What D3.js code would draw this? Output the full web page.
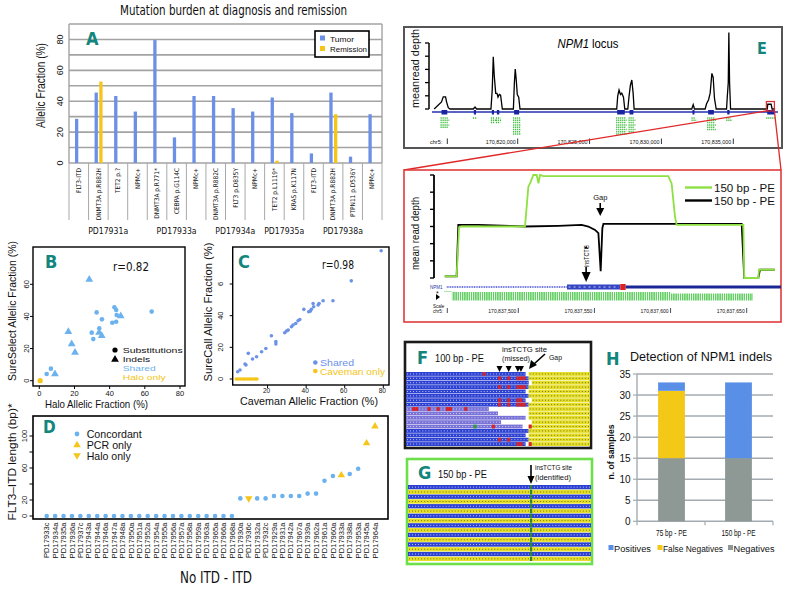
<!DOCTYPE html>
<html>
<head>
<meta charset="utf-8">
<script src="https://cdn.jsdelivr.net/npm/d3@7/dist/d3.min.js"></script>
<style>
  body { margin: 0; background: #fff; }
  svg { display: block; }
</style>
</head>
<body>
<div id="figure"></div>
<script>
// ---------- Panel A: mutation burden ----------
const mutGenes = ["FLT3-ITD", "DNMT3A p.R882H", "TET2 p.?", "NPMc+", "DNMT3A p.R771*", "CEBPA p.G114C", "NPMc+",
  "DNMT3A p.R882C", "FLT3 p.D835Y", "NPMc+", "TET2 p.L1119*", "KRAS p.K117N", "FLT3-ITD", "DNMT3A p.R882H",
  "PTPN11 p.D536Y", "NPMc+"];
const mutSamples = ["PD17931a", "PD17933a", "PD17934a", "PD17935a", "PD17938a"];
const mutPerSample = [4, 3, 3, 2, 4];
const tumorAF = [28.6, 45.6, 43.4, 33.3, 79.6, 16.6, 43.4, 43.4, 35.5, 33.3, 42.4, 32.3, 6.2, 45.6, 4.1, 31.6];
const remissionAF = [null, 52.7, null, null, null, null, null, null, null, null, 1.5, null, null, 31.6, null, null];
const afTicks = [0, 20, 40, 60, 80];

// ---------- Panel B: Halo vs SureSelect ----------
const subsHalo = [32.6, 35.6, 34.1, 30.7, 42.7, 43.7, 44.0, 41.5, 43.7, 63.9, 6.6, 4.2, 29.8];
const subsSure = [42.5, 38.2, 32.6, 25.9, 45.7, 44.0, 40.9, 36.1, 36.7, 43.0, 7.5, 4.2, 29.9];
const indelHalo = [28.4, 16.5, 18.4, 20.3, 8.9, 34.0, 35.5, 46.3];
const indelSure = [63.0, 30.5, 22.8, 17.6, 4.2, 30.0, 28.0, 40.3];
const haloOnlyHalo = [0.5];
const haloOnlySure = [0];
const bXTicks = [0, 20, 40, 60, 80];
const bYTicks = [0, 20, 40, 60];

// ---------- Panel C: Caveman vs SureCall ----------
const sharedCaveman = [63.4, 53.9, 48.8, 46.7, 46.2, 43.9, 43.6, 42.7, 42.2, 41.3, 38.8, 36.7, 35.8, 34.6, 33.2, 32.4,
  30.7, 29.8, 28.9, 22.0, 24.3, 24.3, 19.1, 16.9, 14.3, 12.2, 10.0, 8.8, 8.3, 5.7, 4.5, 78.9];
const sharedSureCall = [62.0, 49.4, 49.4, 47.7, 46.7, 45.6, 47.7, 44.0, 42.9, 42.5, 44.0, 37.6, 36.8, 35.1, 34.1, 33.0,
  30.9, 30.3, 29.2, 27.3, 23.6, 22.1, 19.3, 17.2, 14.1, 12.6, 16.2, 8.8, 9.5, 5.7, 4.6, 81.0];
const cavemanOnly = [3.8, 4.9, 6.0, 7.2, 8.1, 9.3, 10.4, 11.5, 12.6, 13.7, 14.5];
const cXTicks = [20, 40, 60, 80];
const cYTicks = [0, 20, 40, 60];
const cYTickText = ["0", "20", "40", "6"];

// ---------- Panel D: FLT3-ITD length ----------
const itdSamples = ["PD17933c", "PD17934a", "PD17935a", "PD17936a", "PD17937c", "PD17943a", "PD17944a", "PD17946a",
  "PD17947a", "PD17948a", "PD17950a", "PD17951a", "PD17952a", "PD17954a", "PD17955a", "PD17956a", "PD17957a",
  "PD17958a", "PD17959a", "PD17963a", "PD17965a", "PD17966a", "PD17968a", "PD17930a", "PD17936c", "PD17932a",
  "PD17932c", "PD17929a", "PD17931a", "PD17942a", "PD17967a", "PD17939a", "PD17962a", "PD17961a", "PD17960a",
  "PD17933a", "PD17938a", "PD17953a", "PD17945a", "PD17964a"];
const itdLength = [0, 0, 0, 0, 0, 0, 0, 0, 0, 0, 0, 0, 0, 0, 0, 0, 0, 0, 0, 0, 0, 0, 0,
  22, 22, 22, 22, 25, 25, 25, 25, 28, 28, 44, 50, 51, 52.5, 59, 91, 112];
const itdCall = ["C", "C", "C", "C", "C", "C", "C", "C", "C", "C", "C", "C", "C", "C", "C", "C", "C", "C", "C", "C",
  "C", "C", "C", "C", "H", "C", "C", "C", "C", "C", "C", "C", "C", "C", "C", "P", "C", "C", "P", "P"];
const dYTicks = [0, 20, 40, 60, 80, 100];
const dYLabels = [0, 20, 60, 100];

// ---------- Panel E: NPM1 coverage ----------
// positions in kb past chr5:170,800,000
const locusKb = [14.19, 14.70, 14.82, 14.98, 15.05, 15.17, 15.29, 16.91, 17.03, 17.14, 18.14, 18.23, 18.30, 18.37,
  18.47, 18.56, 18.63, 18.72, 18.81, 18.93, 19.70, 19.77, 19.83, 19.90, 19.97, 20.07, 20.16, 26.89, 26.96, 27.05,
  27.15, 27.24, 27.36, 27.45, 27.66, 27.75, 27.84, 27.94, 28.03, 28.10, 32.11, 32.21, 32.30, 33.04, 33.14, 33.28,
  33.39, 33.51, 33.60, 33.69, 33.81, 34.53, 34.58, 34.65, 34.69, 34.74, 34.81, 37.36, 37.40, 37.63, 37.70, 37.91];
const locusDepth = [0, 0.54, 0.92, 0.92, 0.54, 0.1, 0, 0, 0.15, 0, 0, 1.5, 3.95, 2.5, 1.18, 1.18, 0.9, 1.1, 1.05, 0,
  0, 2.0, 3.03, 2.2, 1.1, 0.9, 0, 0, 1.0, 1.44, 1.1, 1.2, 0.9, 0, 0, 1.0, 1.8, 2.2, 1.2, 0, 0, 0.33, 0, 0, 0.4,
  0.7, 1.2, 2.7, 2.4, 0.8, 0, 0, 0.9, 2.0, 5.8, 2.0, 0, 0, 0.36, 0.36, 0, 0];
const exonStartKb = [14.70, 16.95, 18.20, 18.55, 19.75, 26.92, 27.78, 32.16, 33.25, 34.58, 37.36];
const exonEndKb = [15.10, 17.10, 18.35, 18.72, 20.10, 27.45, 28.05, 32.28, 33.65, 34.74, 37.90];
const exonReads = [5, 1, 3, 3, 8, 8, 7, 2, 6, 2, 1];
const locusTicks = [20, 25, 30, 35];
const locusTickText = ["170,820,000", "170,825,000", "170,830,000", "170,835,000"];
const zoomBoxKb = [37.30, 37.86];

// zoomed view: bp past chr5:170,837,500
const greenBp = [-48.6, -40.5, -38.9, -37.2, 4.4, 6.6, 7.7, 9.9, 12.1, 13.2, 14.3, 16.4, 98.5, 100.7, 102.9, 104.0,
  118.2, 147.8, 148.4, 157.6, 158.1, 168.6];
const greenDepth = [0.1, 0.1, 2.96, 3.0, 3.0, 5.32, 5.51, 6.0, 6.0, 5.51, 6.0, 5.94, 5.94, 5.51, 3.58, 3.09, 3.09,
  3.09, 0, 0, 0.48, 0.48];
const blackBp = [-48.2, -40.5, -39.4, -26.2, 4.4, 26.3, 41.6, 46.0, 50.4, 52.6, 54.1, 55.2, 55.9, 100.7, 118.2,
  146.7, 148.4, 157.6, 158.7, 168.6];
const blackDepth = [0.1, 0.1, 3.09, 3.09, 3.0, 3.04, 3.09, 3.0, 2.8, 2.61, 0.39, 2.9, 3.15, 3.15, 3.15, 3.15, 0, 0,
  0.48, 0.48];
const zoomTicks = [0, 50, 100, 150];
const zoomTickText = ["170,837,500", "170,837,550", "170,837,600", "170,837,650"];
const gapBp = 53.8;
const insBp = 47.5;

// ---------- Panel F: 100 bp reads ----------
const fReadEnd = [38, 39, 39, 39, 38, 39, 38, 39, 26, 29, 38, 30, 37, 39, 38, 39, 38];
const fPurple = [0, 0, 0, 0, 0, 0, 0, 0, 1, 1, 1, 1, 1, 0, 0, 0, 0];
const fMateStart = [40, 40, 41, 40, 40, 40, 41, 40, 40, 40, 40, 41, 40, 40, 40, 40, 40];
const fMisRow = [0, 1, 1, 1, 1, 1, 3, 3, 3, 3, 3, 6, 6, 6, 6, 7, 7, 7, 7, 7, 8, 8, 8, 8, 8, 8, 8, 12, 12, 15, 15, 16, 16, 16];
const fMisCol = [25, 30, 33, 36, 37, 38, 30, 33, 36, 37, 38, 30, 33, 36, 37, 30, 33, 36, 37, 38, 2, 3, 7, 10, 13, 14, 19, 28, 40, 30, 33, 36, 37, 40];
const fInsCols = [30, 33, 36, 37];

// ---------- Panel G: 150 bp reads ----------
const gStrand = [0, 1, 0, 1, 0, 1, 0, 1, 0, 1, 0, 1, 0, 1, 0, 1];
const gInsCol = 40;

// ---------- Panel H: detection ----------
const hCats = ["75 bp - PE", "150 bp - PE"];
const hNegatives = [15, 15];
const hFalseNeg = [16, 0];
const hPositives = [2, 18];
const hTicks = [0, 5, 10, 15, 20, 25, 30, 35];

// ================= drawing =================
const TEAL = "#12857c";
const BLUE_A = "#6b90e6";
const YEL = "#f5c518";
const PT_B = "#6cb2ee";
const PT_C = "#6c92e8";
const SANS = "'Liberation Sans', Arial, sans-serif";
const NARROW = "'Liberation Sans Narrow', 'DejaVu Sans Condensed', 'Arial Narrow', sans-serif";

const svg = d3.select("#figure").append("svg")
  .attr("width", 786)
  .attr("height", 591);
svg.append("rect").attr("width", 786).attr("height", 591).attr("fill", "#fff");

function label(g, s, x, y, o = {}) {
  const t = g.append("text")
    .attr("x", x).attr("y", y)
    .attr("text-anchor", o.anchor || "start")
    .attr("fill", o.fill || "#111")
    .style("font-family", o.font || SANS)
    .style("font-size", (o.size || 10) + "px")
    .text(s);
  if (o.bold) t.style("font-weight", "bold");
  if (o.italic) t.style("font-style", "italic");
  if (o.len) t.attr("textLength", o.len).attr("lengthAdjust", "spacingAndGlyphs");
  if (o.rot) t.attr("transform", `rotate(${o.rot},${x},${y})`);
  if (o.dy) t.attr("dy", o.dy);
  return t;
}
function letter(s, x, y, size) {
  label(svg, s, x, y, { font: NARROW, size: size || 18, bold: true, fill: TEAL });
}
function arrowDown(g, x, y1, y2, hw, hh, color) {
  g.append("line").attr("x1", x).attr("x2", x).attr("y1", y1).attr("y2", y2 - hh + 1)
    .attr("stroke", color || "#000").attr("stroke-width", 1.6);
  g.append("path").attr("d", `M${x - hw},${y2 - hh}L${x + hw},${y2 - hh}L${x},${y2}Z`).attr("fill", color || "#000");
}
const tri = d3.symbol().type(d3.symbolTriangle);

// ---------------- Panel A ----------------
const gA = svg.append("g");
const xA = d3.scaleBand().domain(d3.range(mutGenes.length)).range([69, 382]);
const xA2 = d3.scaleBand().domain(["Tumor", "Remission"]).range([6, 14]).paddingInner(0.3);
const yA = d3.scaleLinear().domain([0, 90]).range([163, 24]);

label(gA, "Mutation burden at diagnosis and remission", 233.5, 15, { font: NARROW, size: 13.5, anchor: "middle", len: 227 });

// grid
gA.selectAll("line.grid").data(d3.range(0, 91, 10)).join("line")
  .attr("x1", 69).attr("x2", 382)
  .attr("y1", d => yA(d)).attr("y2", d => yA(d))
  .attr("stroke", "#a3a3a3").attr("stroke-width", 1.6);
[69, 382].forEach(x => gA.append("line").attr("x1", x).attr("x2", x).attr("y1", yA(90)).attr("y2", yA(0))
  .attr("stroke", "#a3a3a3").attr("stroke-width", 1.4));

// category separators below axis
const sepA = d3.range(mutGenes.length).map(i => xA(i)).concat([382]);
gA.selectAll("line.sep").data(sepA).join("line")
  .attr("x1", d => d).attr("x2", d => d).attr("y1", yA(0)).attr("y2", 220)
  .attr("stroke", "#a8a8a8").attr("stroke-width", 1);

// bars
const barsA = tumorAF.map((v, i) => ({ i, key: "Tumor", v }))
  .concat(remissionAF.map((v, i) => ({ i, key: "Remission", v })).filter(d => d.v !== null));
gA.selectAll("rect.bar").data(barsA).join("rect")
  .attr("x", d => xA(d.i) + xA2(d.key))
  .attr("width", xA2.bandwidth())
  .attr("y", d => yA(d.v))
  .attr("height", d => yA(0) - yA(d.v))
  .attr("fill", d => d.key === "Tumor" ? BLUE_A : YEL);

// y tick labels
afTicks.forEach(v => label(gA, v, 60, yA(v), { size: 9, anchor: "middle", rot: -90, dy: "0.35em" }));
label(gA, "Allelic Fraction (%)", 40, 85.5, { size: 13, anchor: "middle", rot: -90, len: 85, dy: "0.35em" });

// category labels
mutGenes.forEach((s, i) => label(gA, s, xA(i) + xA.bandwidth() / 2, 168,
  { font: NARROW, size: 6.5, anchor: "end", rot: -90, dy: "0.35em" }));

// sample labels
let acc = 0;
mutSamples.forEach((s, k) => {
  const c = (xA(acc) + (acc + mutPerSample[k] < mutGenes.length ? xA(acc + mutPerSample[k]) : 382)) / 2;
  label(gA, s, c, 234, { font: NARROW, size: 9.5, anchor: "middle", len: 40 });
  acc += mutPerSample[k];
});

// legend
const legA = gA.append("g");
legA.append("rect").attr("x", 315).attr("y", 31).attr("width", 54).attr("height", 26)
  .attr("fill", "#fff").attr("stroke", "#000").attr("stroke-width", 1.6);
["Tumor", "Remission"].forEach((k, i) => {
  legA.append("rect").attr("x", 320).attr("y", 35.5 + i * 10.5).attr("width", 5).attr("height", 5)
    .attr("fill", k === "Tumor" ? BLUE_A : YEL);
  label(legA, k, 330, 41.5 + i * 10.5, { size: 7.5, len: k === "Tumor" ? 24 : 37 });
});
letter("A", 86, 45, 18);

// ---------------- Panel B ----------------
const gB = svg.append("g");
const xB = d3.scaleLinear().domain([0, 80]).range([39.3, 180]);
const yB = d3.scaleLinear().domain([0, 60]).range([380.7, 284.3]);
gB.append("rect").attr("x", 33).attr("y", 247).attr("width", 152).attr("height", 139)
  .attr("fill", "none").attr("stroke", "#000").attr("stroke-width", 1.4);
bXTicks.forEach(v => {
  gB.append("line").attr("x1", xB(v)).attr("x2", xB(v)).attr("y1", 386).attr("y2", 389).attr("stroke", "#000");
  label(gB, v, xB(v), 396, { size: 7.5, anchor: "middle" });
});
bYTicks.forEach(v => {
  gB.append("line").attr("x1", 30).attr("x2", 33).attr("y1", yB(v)).attr("y2", yB(v)).attr("stroke", "#000");
  label(gB, v, 26, yB(v), { size: 7.5, anchor: "middle", rot: -90, dy: "0.35em" });
});
label(gB, "Halo Allelic Fraction (%)", 96.5, 408, { size: 11, anchor: "middle", len: 103 });
label(gB, "SureSelect Allelic Fraction  (%)", 12, 311, { size: 11, anchor: "middle", rot: -90, len: 140, dy: "0.35em" });
label(gB, "r=0.82", 131, 271, { font: NARROW, size: 13, anchor: "middle", len: 36 });

gB.selectAll("circle.sub").data(subsHalo).join("circle")
  .attr("cx", d => xB(d)).attr("cy", (d, i) => yB(subsSure[i])).attr("r", 2.3).attr("fill", PT_B);
gB.selectAll("path.indel").data(indelHalo).join("path")
  .attr("d", tri.size(26))
  .attr("transform", (d, i) => `translate(${xB(d)},${yB(indelSure[i])})`).attr("fill", PT_B);
gB.selectAll("circle.halo").data(haloOnlyHalo).join("circle")
  .attr("cx", d => xB(d)).attr("cy", (d, i) => yB(haloOnlySure[i])).attr("r", 2.6).attr("fill", YEL);

gB.append("circle").attr("cx", 115).attr("cy", 350).attr("r", 2.6).attr("fill", "#000");
label(gB, "Substitutions", 122.7, 353, { size: 8, len: 60 });
gB.append("path").attr("d", tri.size(26)).attr("transform", "translate(115,359.5)").attr("fill", "#000");
label(gB, "Indels", 122.7, 362.2, { size: 8, len: 27.5 });
label(gB, "Shared", 122.7, 371.3, { size: 8, len: 33, fill: PT_B });
label(gB, "Halo only", 122.7, 380.4, { size: 8, len: 43, fill: YEL });
letter("B", 45, 268, 18);

// ---------------- Panel C ----------------
const gC = svg.append("g");
const xC = d3.scaleLinear().domain([0, 80]).range([229, 383.3]);
const yC = d3.scaleLinear().domain([0, 60]).range([379, 284]);
gC.append("rect").attr("x", 232.7).attr("y", 247).attr("width", 156.3).attr("height", 138)
  .attr("fill", "none").attr("stroke", "#000").attr("stroke-width", 1.4);
cXTicks.forEach(v => {
  gC.append("line").attr("x1", xC(v)).attr("x2", xC(v)).attr("y1", 385).attr("y2", 388).attr("stroke", "#000");
  label(gC, v, xC(v) - 1, 393, { size: 6.5, anchor: "middle" });
});
cYTicks.forEach((v, i) => {
  gC.append("line").attr("x1", 229.7).attr("x2", 232.7).attr("y1", yC(v)).attr("y2", yC(v)).attr("stroke", "#000");
  label(gC, cYTickText[i], 220.5, yC(v), { size: 7.5, anchor: "middle", rot: -90, dy: "0.35em" });
});
label(gC, "Caveman Allelic Fraction (%)", 309, 405, { size: 11.5, anchor: "middle", len: 138 });
label(gC, "SureCall Allelic Fraction (%)", 208.3, 312, { size: 11, anchor: "middle", rot: -90, len: 139, dy: "0.35em" });
label(gC, "r=0.98", 338, 269, { font: NARROW, size: 13, anchor: "middle", len: 32 });

gC.selectAll("circle.sh").data(sharedCaveman).join("circle")
  .attr("cx", d => xC(d)).attr("cy", (d, i) => yC(sharedSureCall[i])).attr("r", 1.8).attr("fill", PT_C);
gC.selectAll("circle.cv").data(cavemanOnly).join("circle")
  .attr("cx", d => xC(d)).attr("cy", yC(0)).attr("r", 1.8).attr("fill", YEL);

gC.append("circle").attr("cx", 315.3).attr("cy", 362.5).attr("r", 2.3).attr("fill", PT_C);
label(gC, "Shared", 320, 366, { size: 9, len: 34, fill: PT_C });
gC.append("circle").attr("cx", 315.3).attr("cy", 371).attr("r", 2.3).attr("fill", YEL);
label(gC, "Caveman only", 320, 374.5, { size: 9, len: 65, fill: YEL });
letter("C", 238, 268, 18);

// ---------------- Panel D ----------------
const gD = svg.append("g");
const xD = d3.scalePoint().domain(itdSamples).range([46.7, 375]);
const yD = d3.scaleLinear().domain([0, 100]).range([516, 436]);
gD.append("rect").attr("x", 33).attr("y", 416).attr("width", 355).attr("height", 103)
  .attr("fill", "none").attr("stroke", "#000").attr("stroke-width", 1.6);
dYTicks.forEach(v => gD.append("line").attr("x1", 29.5).attr("x2", 33).attr("y1", yD(v)).attr("y2", yD(v)).attr("stroke", "#000"));
dYLabels.forEach(v => label(gD, v, 24, yD(v), { size: 7.5, anchor: "middle", rot: -90, dy: "0.35em" }));
label(gD, "FLT3\u2013ITD length (bp)*", 12, 462, { size: 11, anchor: "middle", rot: -90, len: 117, dy: "0.35em" });
itdSamples.forEach(s => label(gD, s, xD(s), 522.5, { size: 7.6, anchor: "end", rot: -90, dy: "0.35em" }));
label(gD, "No ITD - ITD", 216, 583, { font: NARROW, size: 15, anchor: "middle", len: 72 });

itdSamples.forEach((s, i) => {
  const x = xD(s), y = yD(itdLength[i]);
  if (itdCall[i] === "C") {
    gD.append("circle").attr("cx", x).attr("cy", y).attr("r", 2.3).attr("fill", PT_B);
  } else {
    gD.append("path").attr("d", tri.size(24))
      .attr("transform", `translate(${x},${y})` + (itdCall[i] === "H" ? " rotate(180)" : ""))
      .attr("fill", YEL);
  }
});
gD.append("circle").attr("cx", 77).attr("cy", 434).attr("r", 2.4).attr("fill", PT_B);
label(gD, "Concordant", 86.7, 438, { size: 10.5, len: 55 });
gD.append("path").attr("d", tri.size(24)).attr("transform", "translate(77,445)").attr("fill", YEL);
label(gD, "PCR only", 86.7, 449, { size: 10.5, len: 45 });
gD.append("path").attr("d", tri.size(24)).attr("transform", "translate(77,455.5) rotate(180)").attr("fill", YEL);
label(gD, "Halo only", 86.7, 459.5, { size: 10.5, len: 44 });
letter("D", 43, 433, 17);

// ---------------- Panel E (locus) ----------------
const gE = svg.append("g");
const xE = d3.scaleLinear().domain([20, 35]).range([517.7, 733.3]);
const yE = d3.scaleLinear().domain([0, 5]).range([109, 43]);
gE.append("rect").attr("x", 404).attr("y", 27).attr("width", 378).attr("height", 121)
  .attr("fill", "#fff").attr("stroke", "#555").attr("stroke-width", 2);
gE.append("line").attr("x1", 429).attr("x2", 429).attr("y1", yE(5)).attr("y2", yE(0)).attr("stroke", "#000").attr("stroke-width", 1.5);
d3.range(0, 6).forEach(v => gE.append("line").attr("x1", 425).attr("x2", 429).attr("y1", yE(v)).attr("y2", yE(v))
  .attr("stroke", "#000").attr("stroke-width", 1.3));
label(gE, "meanread depth", 415, 68.5, { size: 11, anchor: "middle", rot: -90, len: 79, dy: "0.35em" });
const titleE = gE.append("text").attr("x", 588).attr("y", 47.5).attr("text-anchor", "middle")
  .style("font-family", SANS).style("font-size", "12px").attr("textLength", 61).attr("lengthAdjust", "spacingAndGlyphs");
titleE.append("tspan").style("font-style", "italic").text("NPM1");
titleE.append("tspan").text(" locus");

const lineE = d3.line().x(d => xE(d[0])).y(d => yE(d[1]));
gE.append("path").datum(locusKb.map((k, i) => [k, locusDepth[i]]))
  .attr("d", lineE).attr("fill", "none").attr("stroke", "#000").attr("stroke-width", 1.3);

// gene track
gE.append("line").attr("x1", 432).attr("x2", 778).attr("y1", 112).attr("y2", 112).attr("stroke", "#2430b0").attr("stroke-width", 1.3);
exonStartKb.forEach((s, i) => {
  gE.append("rect").attr("x", xE(s)).attr("y", 110).attr("width", Math.max(2, xE(exonEndKb[i]) - xE(s)))
    .attr("height", 4.5).attr("fill", "#1a24a0");
  d3.range(exonReads[i]).forEach(r => gE.append("line")
    .attr("x1", xE(s) - 1).attr("x2", xE(exonEndKb[i]) + 1 + (r % 2))
    .attr("y1", 118 + r * 2.3).attr("y2", 118 + r * 2.3)
    .attr("stroke", "#3cba3c").attr("stroke-width", 1.5).attr("stroke-dasharray", "1.2,0.8"));
});
label(gE, "chr5:", 430, 143.5, { size: 5.5 });
gE.append("line").attr("x1", 447.3).attr("x2", 447.3).attr("y1", 138.5).attr("y2", 144).attr("stroke", "#000").attr("stroke-width", 0.8);
locusTicks.forEach((v, i) => {
  label(gE, locusTickText[i], xE(v) - 2, 143.5, { size: 5.5, anchor: "end", len: 30 });
  gE.append("line").attr("x1", xE(v)).attr("x2", xE(v)).attr("y1", 138.5).attr("y2", 144).attr("stroke", "#000").attr("stroke-width", 0.8);
});
label(gE, "E", 757, 53.5, { font: NARROW, size: 16, bold: true, fill: TEAL });

// red zoom box + connectors
const zx0 = xE(zoomBoxKb[0]), zx1 = xE(zoomBoxKb[1]);
gE.append("rect").attr("x", zx0).attr("y", 101.5).attr("width", zx1 - zx0).attr("height", 9.5)
  .attr("fill", "none").attr("stroke", "#e02828").attr("stroke-width", 1.2);
gE.append("line").attr("x1", zx0).attr("y1", 111).attr("x2", 404).attr("y2", 170).attr("stroke", "#e02828").attr("stroke-width", 1.3);
gE.append("line").attr("x1", zx1).attr("y1", 111).attr("x2", 781).attr("y2", 170).attr("stroke", "#e02828").attr("stroke-width", 1.3);

// ---------------- Panel E (zoom) ----------------
const gZ = svg.append("g");
const xZ = d3.scaleLinear().domain([0, 150]).range([518.3, 746.7]);
const yZ = d3.scaleLinear().domain([0, 6]).range([278, 175]);
gZ.append("rect").attr("x", 404).attr("y", 170).attr("width", 377).attr("height", 152)
  .attr("fill", "#fff").attr("stroke", "#e03a3a").attr("stroke-width", 1.6);
gZ.append("line").attr("x1", 434).attr("x2", 434).attr("y1", yZ(6)).attr("y2", yZ(0)).attr("stroke", "#000").attr("stroke-width", 1.8);
d3.range(0, 7).forEach(v => gZ.append("line").attr("x1", 430).attr("x2", 434).attr("y1", yZ(v)).attr("y2", yZ(v))
  .attr("stroke", "#000").attr("stroke-width", 1.4));
label(gZ, "mean read depth", 415, 233.5, { size: 11, anchor: "middle", rot: -90, len: 73, dy: "0.35em" });

const lineZ = d3.line().x(d => xZ(d[0])).y(d => yZ(d[1]));
gZ.append("path").datum(blackBp.map((b, i) => [b, blackDepth[i]]))
  .attr("d", lineZ).attr("fill", "none").attr("stroke", "#000").attr("stroke-width", 1.8);
gZ.append("path").datum(greenBp.map((b, i) => [b, greenDepth[i]]))
  .attr("d", lineZ).attr("fill", "none").attr("stroke", "#8ee043").attr("stroke-width", 1.8);

// legend
gZ.append("line").attr("x1", 685).attr("x2", 712).attr("y1", 187.5).attr("y2", 187.5).attr("stroke", "#8ee043").attr("stroke-width", 2.4);
label(gZ, "150 bp - PE", 714, 191.5, { size: 11.5, len: 61 });
gZ.append("line").attr("x1", 685).attr("x2", 712).attr("y1", 200.5).attr("y2", 200.5).attr("stroke", "#000").attr("stroke-width", 2.4);
label(gZ, "150 bp - PE", 714, 204.5, { size: 11.5, len: 61 });

// annotations
label(gZ, "Gap", xZ(gapBp), 200, { size: 7.5, anchor: "middle" });
arrowDown(gZ, xZ(gapBp), 203, 216, 4, 8);
label(gZ, "insTCTG", xZ(insBp) - 4.5, 256, { size: 7.5, anchor: "middle", rot: -90, dy: "0.35em", len: 22 });
gZ.append("path").attr("d", `M${xZ(insBp) - 4.5},246l-2,2.5l4,0z`).attr("fill", "#000");
arrowDown(gZ, xZ(insBp) - 4.5, 267, 282, 4.5, 10);

// gene model
gZ.append("line").attr("x1", xZ(-47)).attr("x2", xZ(32)).attr("y1", 287).attr("y2", 287)
  .attr("stroke", "#6a74dc").attr("stroke-width", 2).attr("stroke-dasharray", "1,0.7");
gZ.append("rect").attr("x", xZ(32)).attr("y", 284.5).attr("width", xZ(67) - xZ(32)).attr("height", 5).attr("fill", "#3445c4");
gZ.append("line").attr("x1", xZ(33)).attr("x2", xZ(66)).attr("y1", 287).attr("y2", 287)
  .attr("stroke", "#c8ccf0").attr("stroke-width", 1).attr("stroke-dasharray", "2,3");
gZ.append("rect").attr("x", xZ(67)).attr("y", 284).attr("width", xZ(70.5) - xZ(67)).attr("height", 6).attr("fill", "#e02020");
gZ.append("line").attr("x1", xZ(70.5)).attr("x2", 781).attr("y1", 287).attr("y2", 287).attr("stroke", "#1a2896").attr("stroke-width", 3);
label(gZ, "NPM1", 430, 288.5, { size: 4.5, fill: "#2233aa" });
const defs = svg.append("defs");
defs.append("pattern").attr("id", "readHatch").attr("patternUnits", "userSpaceOnUse").attr("width", 2.2).attr("height", 8)
  .append("rect").attr("width", 1.4).attr("height", 8).attr("fill", "#5ccc5c");
gZ.append("rect").attr("x", xZ(-43.6)).attr("y", 292).attr("width", xZ(100) - xZ(-43.6)).attr("height", 8.5).attr("fill", "url(#readHatch)");
gZ.append("rect").attr("x", xZ(100)).attr("y", 293.5).attr("width", xZ(154) - xZ(100)).attr("height", 7).attr("fill", "url(#readHatch)");
gZ.append("line").attr("x1", xZ(-48.5)).attr("x2", xZ(-44)).attr("y1", 291.5).attr("y2", 291.5)
  .attr("stroke", "#5ccc5c").attr("stroke-width", 1).attr("stroke-dasharray", "1,1");
gZ.append("path").attr("d", "M436,294l4,3l-4,3z").attr("fill", "#000");
label(gZ, "*", 436, 296, { size: 7 });
label(gZ, "Scale", 433, 307.5, { size: 4.5 });
label(gZ, "chr5:", 433, 312.5, { size: 4.5 });
gZ.append("line").attr("x1", 447.3).attr("x2", 447.3).attr("y1", 308).attr("y2", 313).attr("stroke", "#000").attr("stroke-width", 0.7);
zoomTicks.forEach((v, i) => {
  label(gZ, zoomTickText[i], xZ(v) - 2, 312.5, { size: 5, anchor: "end", len: 28 });
  gZ.append("line").attr("x1", xZ(v)).attr("x2", xZ(v)).attr("y1", 308).attr("y2", 313).attr("stroke", "#000").attr("stroke-width", 0.7);
});

// ---------------- Panel F ----------------
const gF = svg.append("g");
const fCol = d3.scaleBand().domain(d3.range(60)).range([406, 590]);
const fRow = d3.scaleBand().domain(d3.range(fReadEnd.length)).range([372, 446]).paddingInner(0.12);
gF.append("rect").attr("x", 405).attr("y", 342).attr("width", 186).attr("height", 106)
  .attr("fill", "#fff").attr("stroke", "#1a1a1a").attr("stroke-width", 2.6);
fReadEnd.forEach((e, r) => {
  const y = fRow(r), h = fRow.bandwidth();
  gF.append("rect").attr("x", fCol(0)).attr("y", y).attr("width", fCol(e) + fCol.bandwidth() - fCol(0)).attr("height", h)
    .attr("fill", fPurple[r] ? "#7a72d6" : "#2c40d2");
  gF.append("line").attr("x1", fCol(0) + 1).attr("x2", fCol(e) + fCol.bandwidth()).attr("y1", y + h / 2).attr("y2", y + h / 2)
    .attr("stroke", "#dfe3ff").attr("stroke-width", 0.9).attr("stroke-dasharray", "0.9,2.17");
  gF.append("rect").attr("x", fCol(fMateStart[r])).attr("y", y).attr("width", 590 - fCol(fMateStart[r])).attr("height", h)
    .attr("fill", "#e6df2a");
  gF.append("line").attr("x1", fCol(fMateStart[r]) + 1).attr("x2", 590).attr("y1", y + h / 2).attr("y2", y + h / 2)
    .attr("stroke", "#5a5a18").attr("stroke-width", 0.9).attr("stroke-dasharray", "0.9,2.17");
});
fMisRow.forEach((r, i) => gF.append("rect").attr("x", fCol(fMisCol[i])).attr("y", fRow(r))
  .attr("width", fCol.bandwidth()).attr("height", fRow.bandwidth()).attr("fill", "#d6262a"));
gF.append("rect").attr("x", fCol(22)).attr("y", fRow(12)).attr("width", fCol.bandwidth()).attr("height", fRow.bandwidth()).attr("fill", "#2e9a3a");
label(gF, "F", 417, 364, { font: NARROW, size: 18, bold: true, fill: TEAL });
label(gF, "100 bp - PE", 435, 361.5, { size: 10.5, len: 49 });
label(gF, "insTCTG site", 502, 351.5, { size: 7.5, len: 45 });
label(gF, "(missed)", 502, 361, { size: 7.5, len: 28 });
label(gF, "Gap", 549, 359.5, { size: 7.5, len: 13 });
fInsCols.forEach(c => gF.append("path")
  .attr("d", `M${fCol(c) + 1.5 - 3},366L${fCol(c) + 1.5 + 3},366L${fCol(c) + 1.5},372Z`).attr("fill", "#000"));
gF.append("line").attr("x1", 545).attr("y1", 354).attr("x2", 534).attr("y2", 364).attr("stroke", "#000").attr("stroke-width", 1.6);
gF.append("path").attr("d", "M529,369L531,360L537,365Z").attr("fill", "#000");

// ---------------- Panel G ----------------
const gG = svg.append("g");
const gCol = d3.scaleBand().domain(d3.range(60)).range([408, 591]);
const gRow = d3.scaleBand().domain(d3.range(gStrand.length)).range([485, 561]).paddingInner(0.1);
gG.append("rect").attr("x", 407).attr("y", 459).attr("width", 185).attr("height", 105)
  .attr("fill", "#fff").attr("stroke", "#6ddf4a").attr("stroke-width", 2.6);
gStrand.forEach((s, r) => {
  const y = gRow(r), h = gRow.bandwidth();
  gG.append("rect").attr("x", 408).attr("y", y).attr("width", 183).attr("height", h).attr("fill", s ? "#e6df2a" : "#2c40d2");
  gG.append("line").attr("x1", 409).attr("x2", 591).attr("y1", y + h / 2).attr("y2", y + h / 2)
    .attr("stroke", s ? "#5a5a18" : "#dfe3ff").attr("stroke-width", 0.9).attr("stroke-dasharray", "0.9,2.15");
  gG.append("rect").attr("x", gCol(gInsCol)).attr("y", y).attr("width", 2.2).attr("height", h).attr("fill", "#2e8a30");
});
label(gG, "G", 418, 478.5, { font: NARROW, size: 18, bold: true, fill: TEAL });
label(gG, "150 bp - PE", 438, 478, { size: 10.5, len: 49 });
label(gG, "insTCTG site", 535, 469.5, { size: 7.5, len: 37 });
label(gG, "(identified)", 535, 479.5, { size: 7.5, len: 36 });
arrowDown(gG, gCol(gInsCol) + 1, 465, 484, 3.5, 8);

// ---------------- Panel H ----------------
const gH = svg.append("g");
const xH = d3.scaleBand().domain(hCats).range([637, 773]).paddingInner(0.6).paddingOuter(0.315);
const yH = d3.scaleLinear().domain([0, 35]).range([521.3, 374]);
hTicks.forEach(v => {
  if (v > 0) gH.append("line").attr("x1", 637).attr("x2", 773).attr("y1", yH(v)).attr("y2", yH(v))
    .attr("stroke", "#a3abb0").attr("stroke-width", 1.5);
  gH.append("line").attr("x1", 633).attr("x2", 637).attr("y1", yH(v)).attr("y2", yH(v)).attr("stroke", "#a3abb0").attr("stroke-width", 1.2);
  label(gH, v, 630.5, yH(v), { size: 10, anchor: "end", dy: "0.35em" });
});
gH.append("line").attr("x1", 637).attr("x2", 637).attr("y1", yH(35)).attr("y2", yH(0)).attr("stroke", "#a3abb0").attr("stroke-width", 1.4);
gH.append("line").attr("x1", 637).attr("x2", 773).attr("y1", yH(0)).attr("y2", yH(0)).attr("stroke", "#a3abb0").attr("stroke-width", 1.4);
[637, 705, 773].forEach(x => gH.append("line").attr("x1", x).attr("x2", x).attr("y1", yH(0)).attr("y2", yH(0) + 4)
  .attr("stroke", "#a3abb0").attr("stroke-width", 1.2));

const stackH = d3.stack().keys(["neg", "fn", "pos"])(hCats.map((c, i) => ({ cat: c, neg: hNegatives[i], fn: hFalseNeg[i], pos: hPositives[i] })));
const hColor = { neg: "#8e9996", fn: "#f3c816", pos: "#5a8fe8" };
stackH.forEach(layer => {
  gH.selectAll(null).data(layer).join("rect")
    .attr("x", d => xH(d.data.cat)).attr("width", xH.bandwidth())
    .attr("y", d => yH(d[1])).attr("height", d => yH(d[0]) - yH(d[1]))
    .attr("fill", hColor[layer.key]);
});
hCats.forEach(c => label(gH, c, xH(c) + xH.bandwidth() / 2, 536, { size: 8.5, anchor: "middle", len: c.length > 10 ? 34 : 31 }));
label(gH, "n. of samples", 611.5, 452, { size: 8.5, bold: true, anchor: "middle", rot: -90, len: 55, dy: "0.35em" });
label(gH, "Detection of NPM1 indels", 701, 361, { size: 13, anchor: "middle", len: 142 });
label(gH, "H", 606, 365, { font: NARROW, size: 18, bold: true, fill: TEAL });

const legH = [["pos", "Positives", 608.5, 37], ["fn", "False Negatives", 657.5, 60], ["neg", "Negatives", 728, 41]];
legH.forEach(([k, s, x, w]) => {
  gH.append("rect").attr("x", x).attr("y", 545).attr("width", 5).attr("height", 5).attr("fill", hColor[k]);
  label(gH, s, x + 5.5, 552, { size: 8.5, len: w });
});
</script>
</body>
</html>
